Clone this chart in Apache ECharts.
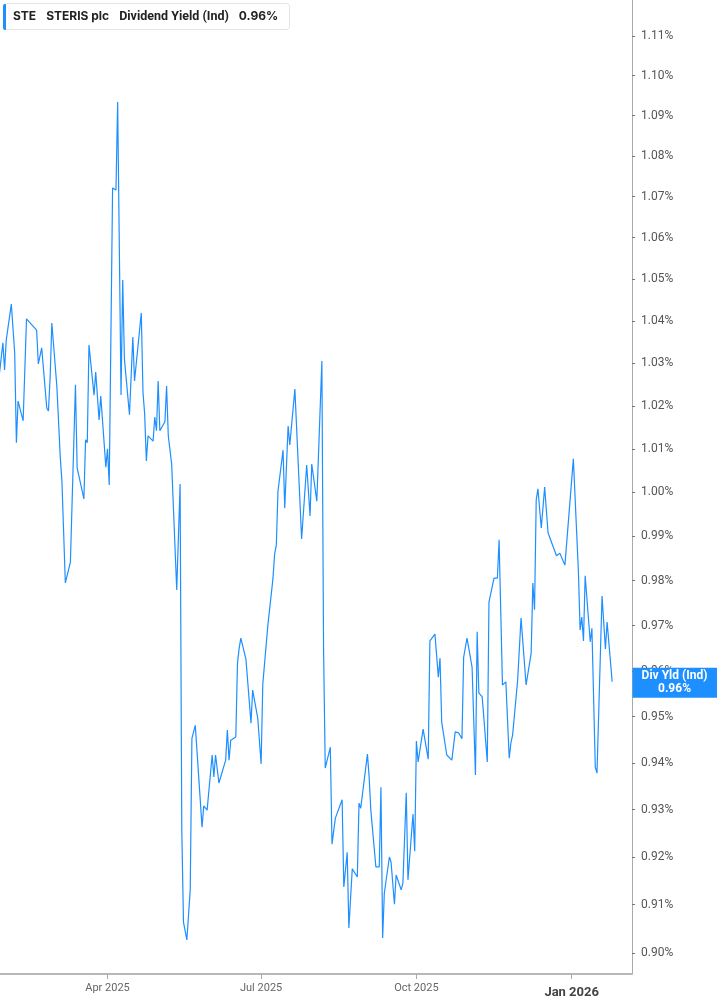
<!DOCTYPE html>
<html>
<head>
<meta charset="utf-8">
<script src="https://cdn.jsdelivr.net/npm/echarts@6/dist/echarts.min.js"></script>
<style>
  html, body { margin: 0; padding: 0; background: #fff; }
  #chart { width: 717px; height: 1005px; }
</style>
</head>
<body>
<div id="chart"></div>
<script>
// STE dividend yield (indicated)
const dates = [
  '2025-01-27','2025-01-29','2025-01-30','2025-01-31','2025-02-03','2025-02-05','2025-02-06','2025-02-07',
  '2025-02-10','2025-02-12','2025-02-18','2025-02-19','2025-02-21','2025-02-24','2025-02-25','2025-02-26',
  '2025-02-27','2025-03-02','2025-03-04','2025-03-05','2025-03-07','2025-03-10','2025-03-13','2025-03-14',
  '2025-03-18','2025-03-19','2025-03-20','2025-03-21','2025-03-24','2025-03-25','2025-03-27','2025-03-28',
  '2025-03-31','2025-04-01','2025-04-02','2025-04-04','2025-04-06','2025-04-07','2025-04-09','2025-04-10',
  '2025-04-11','2025-04-14','2025-04-16','2025-04-17','2025-04-21','2025-04-22','2025-04-23','2025-04-24',
  '2025-04-25','2025-04-28','2025-04-29','2025-04-30','2025-05-01','2025-05-02','2025-05-05','2025-05-06',
  '2025-05-07','2025-05-09','2025-05-12','2025-05-14','2025-05-15','2025-05-16','2025-05-18','2025-05-20',
  '2025-05-21','2025-05-23','2025-05-27','2025-05-28','2025-05-30','2025-06-02','2025-06-03','2025-06-04',
  '2025-06-06','2025-06-10','2025-06-11','2025-06-12','2025-06-13','2025-06-16','2025-06-17','2025-06-18',
  '2025-06-19','2025-06-22','2025-06-25','2025-06-26','2025-06-29','2025-07-01','2025-07-02','2025-07-05',
  '2025-07-08','2025-07-09','2025-07-10','2025-07-11','2025-07-14','2025-07-15','2025-07-17','2025-07-18',
  '2025-07-21','2025-07-25','2025-07-28','2025-07-30','2025-07-31','2025-08-03','2025-08-06','2025-08-07',
  '2025-08-08','2025-08-11','2025-08-12','2025-08-14','2025-08-18','2025-08-19','2025-08-21','2025-08-22',
  '2025-08-24','2025-08-27','2025-08-28','2025-08-29','2025-09-02','2025-09-03','2025-09-04','2025-09-07',
  '2025-09-09','2025-09-10','2025-09-11','2025-09-12','2025-09-15','2025-09-16','2025-09-18','2025-09-19',
  '2025-09-22','2025-09-23','2025-09-25','2025-09-26','2025-09-29','2025-09-30','2025-10-01','2025-10-02',
  '2025-10-03','2025-10-05','2025-10-08','2025-10-09','2025-10-12','2025-10-14','2025-10-15','2025-10-16',
  '2025-10-17','2025-10-19','2025-10-20','2025-10-22','2025-10-24','2025-10-26','2025-10-28','2025-10-29',
  '2025-10-31','2025-11-03','2025-11-05','2025-11-06','2025-11-07','2025-11-09','2025-11-12','2025-11-13',
  '2025-11-16','2025-11-18','2025-11-19','2025-11-21','2025-11-23','2025-11-25','2025-11-26','2025-11-27',
  '2025-11-30','2025-12-02','2025-12-03','2025-12-05','2025-12-08','2025-12-09','2025-12-10','2025-12-11',
  '2025-12-12','2025-12-14','2025-12-16','2025-12-17','2025-12-18','2025-12-23','2025-12-25','2025-12-28',
  '2026-01-02','2026-01-05','2026-01-06','2026-01-07','2026-01-08','2026-01-09','2026-01-12','2026-01-13',
  '2026-01-15','2026-01-16','2026-01-19','2026-01-21','2026-01-22','2026-01-25'
];

// dividend yield in %
const yieldValues = [
  1.0277,1.0348,1.0284,1.0355,1.0440,1.0324,1.0114,1.0211,
  1.0165,1.0405,1.0378,1.0298,1.0336,1.0195,1.0188,1.0267,
  1.0395,1.0244,1.0081,1.0024,0.9795,0.9842,1.0249,1.0056,
  0.9985,1.0121,1.0114,1.0343,1.0225,1.0279,1.0167,1.0223,
  1.0058,1.0100,1.0017,1.0721,1.0716,1.0934,1.0225,1.0498,
  1.0310,1.0179,1.0362,1.0258,1.0419,1.0232,1.0181,1.0072,
  1.0130,1.0118,1.0174,1.0142,1.0258,1.0142,1.0163,1.0246,
  1.0130,1.0065,0.9779,1.0019,0.9257,0.9064,0.9027,0.9131,
  0.9453,0.9481,0.9263,0.9308,0.9299,0.9417,0.9370,0.9417,
  0.9357,0.9406,0.9471,0.9406,0.9449,0.9456,0.9617,0.9650,
  0.9672,0.9626,0.9486,0.9558,0.9497,0.9398,0.9571,0.9701,
  0.9804,0.9860,0.9880,1.0003,1.0097,0.9964,1.0153,1.0109,
  1.0239,0.9894,1.0063,0.9946,1.0065,0.9980,1.0305,0.9650,
  0.9389,0.9434,0.9227,0.9282,0.9321,0.9137,0.9210,0.9052,
  0.9175,0.9158,0.9314,0.9303,0.9419,0.9370,0.9299,0.9179,
  0.9179,0.9348,0.9031,0.9124,0.9200,0.9189,0.9101,0.9162,
  0.9131,0.9145,0.9336,0.9152,0.9291,0.9212,0.9447,0.9402,
  0.9406,0.9473,0.9408,0.9666,0.9681,0.9586,0.9628,0.9488,
  0.9488,0.9417,0.9419,0.9406,0.9467,0.9465,0.9452,0.9630,
  0.9672,0.9608,0.9374,0.9686,0.9552,0.9543,0.9402,0.9752,
  0.9806,0.9806,0.9892,0.9569,0.9576,0.9410,0.9443,0.9460,
  0.9580,0.9717,0.9715,0.9569,0.9639,0.9795,0.9735,0.9983,
  1.0008,0.9919,1.0012,1.0015,0.9908,0.9856,0.9862,0.9835,
  1.0077,0.9820,0.9690,0.9719,0.9666,0.9811,0.9664,0.9694,
  0.9391,0.9378,0.9766,0.9648,0.9708,0.9576
];

const yTicks = [0.90,0.91,0.92,0.93,0.94,0.95,0.96,0.97,0.98,0.99,1.00,1.01,1.02,1.03,1.04,1.05,1.06,1.07,1.08,1.09,1.10,1.11];
const xTickDates = ['2025-04-01','2025-07-01','2025-10-01','2026-01-01'];
const xTickLabels = ['Apr 2025','Jul 2025','Oct 2025','Jan 2026'];

const blue = '#1e8fff';

// dates as day timestamps (UTC) for a plain value axis
const toTime = s => Date.parse(s.length > 10 ? s.replace(' ', 'T') + ':00Z' : s + 'T00:00:00Z');
const xMin = toTime('2025-01-27 07:00');
const xMax = toTime('2026-02-05 18:00');
const xTickTimes = xTickDates.map(toTime);

const lastVal = yieldValues[yieldValues.length - 1];
const lastText = lastVal.toFixed(2) + '%';

const chart = echarts.init(document.getElementById('chart'));

const option = {
  animation: false,
  backgroundColor: '#fff',
  textStyle: { fontFamily: 'Roboto' },
  title: {
    left: 3,
    top: 3,
    padding: [7, 12, 7, 10],
    backgroundColor: '#fff',
    borderColor: '#e4e4e4',
    borderWidth: 1,
    borderRadius: 3,
    text: '{b|STE}{b|STERIS plc}{n|Dividend Yield (Ind)}{v|' + lastText + '}',
    textStyle: {
      rich: {
        b: { fontFamily: 'Inter', fontSize: 12, fontWeight: 'bold', color: '#222', padding: [0, 10, 0, 0] },
        n: { fontFamily: 'Roboto', fontSize: 12.5, color: '#222', padding: [0, 10, 0, 0] },
        v: { fontFamily: 'Inter', fontSize: 12, fontWeight: 'bold', color: '#222' }
      }
    }
  },
  grid: { left: 0, right: 85, top: 0, bottom: 31 },
  xAxis: {
    type: 'value',
    min: xMin,
    max: xMax,
    axisLine: { show: true, lineStyle: { color: '#b8b8b8', width: 2 } },
    axisTick: { show: true, customValues: xTickTimes, length: 5, lineStyle: { color: '#aaa' } },
    axisLabel: {
      customValues: xTickTimes,
      margin: 9,
      color: '#666',
      fontSize: 11,
      formatter: function (val) {
        const idx = xTickTimes.findIndex(t => Math.abs(t - val) < 3600000);
        if (idx < 0) return '';
        return idx === xTickLabels.length - 1 ? '{big|' + xTickLabels[idx] + '}' : xTickLabels[idx];
      },
      rich: {
        big: { fontSize: 13, fontWeight: 'bold', color: '#444', padding: [3, 0, 0, 0] }
      }
    },
    splitLine: { show: false }
  },
  yAxis: {
    type: 'log',
    logBase: 10,
    position: 'right',
    min: 0.8957,
    max: 1.1192,
    axisLine: { show: true, lineStyle: { color: '#aaa', width: 1 } },
    axisTick: { show: true, customValues: yTicks, length: 3, lineStyle: { color: '#777' } },
    axisLabel: {
      customValues: yTicks,
      margin: 9,
      color: '#555',
      fontSize: 12,
      formatter: v => v.toFixed(2) + '%'
    },
    splitLine: { show: false }
  },
  series: [{
    name: 'Div Yld (Ind)',
    type: 'line',
    data: dates.map((d, i) => [toTime(d), yieldValues[i]]),
    showSymbol: false,
    silent: true,
    lineStyle: { color: blue, width: 1.2 }
  }]
};

chart.setOption(option);

// header accent bar and last-value tag on the right axis
const endPt = chart.convertToPixel({ gridIndex: 0 }, [toTime(dates[dates.length - 1]), lastVal]);
const axisX = chart.convertToPixel({ xAxisIndex: 0 }, xMax);
const tagW = chart.getWidth() - axisX;
chart.setOption({
  graphic: [{
    type: 'rect',
    left: 3,
    top: 4,
    z: 100,
    shape: { width: 3, height: 26, r: [2, 0, 0, 2] },
    style: { fill: blue }
  }, {
    type: 'rect',
    z: 100,
    shape: { x: axisX + 0.5, y: endPt[1] - 14, width: tagW, height: 30 },
    style: { fill: blue }
  }, {
    type: 'text',
    z: 101,
    x: axisX + tagW / 2,
    y: endPt[1] + 1,
    style: {
      text: 'Div Yld (Ind)\n' + lastText,
      align: 'center',
      verticalAlign: 'middle',
      fill: '#fff',
      fontFamily: 'Roboto',
      fontWeight: 'bold',
      fontSize: 12,
      lineHeight: 13
    }
  }]
});
</script>
</body>
</html>
